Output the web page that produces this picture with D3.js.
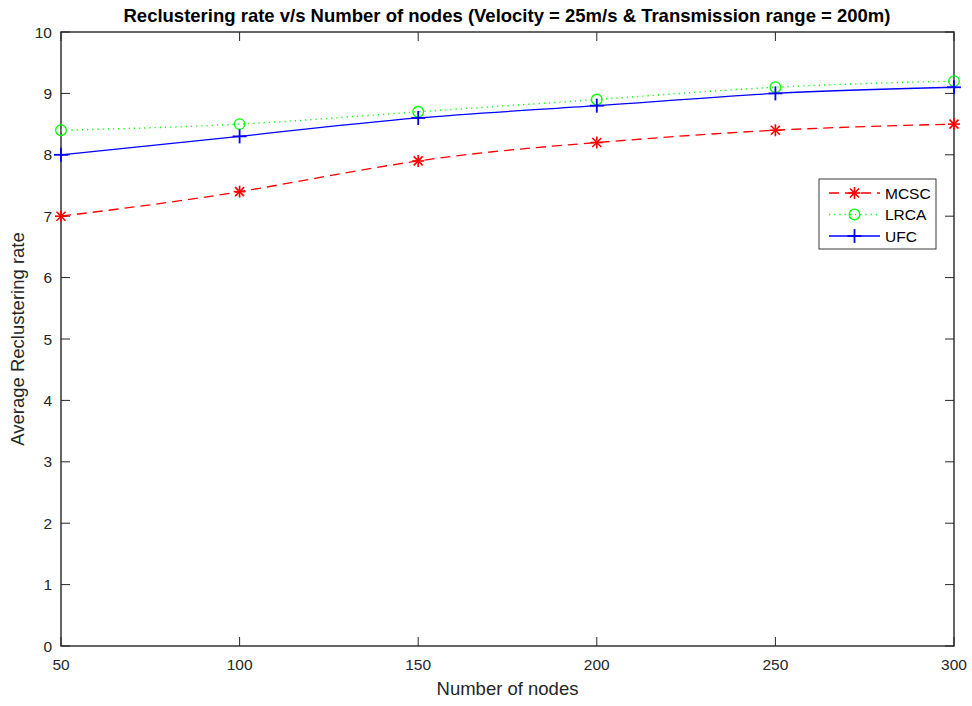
<!DOCTYPE html>
<html>
<head>
<meta charset="utf-8">
<script src="https://cdn.jsdelivr.net/npm/d3@7"></script>
<style>
  body { margin: 0; background: #fff; }
  svg { display: block; font-family: "Liberation Sans", Arial, Helvetica, sans-serif; }
</style>
</head>
<body>
<svg id="chart" width="972" height="706"></svg>
<script>
// Number of nodes on the x axis
const nodes = [50, 100, 150, 200, 250, 300];
// Average reclustering rate per scheme
const mcsc = [7.0, 7.4, 7.9, 8.2, 8.4, 8.5];
const lrca = [8.4, 8.5, 8.7, 8.9, 9.1, 9.2];
const ufc  = [8.0, 8.3, 8.6, 8.8, 9.0, 9.1];
const xTicks = [50, 100, 150, 200, 250, 300];
const yTicks = [0, 1, 2, 3, 4, 5, 6, 7, 8, 9, 10];

const series = [
  { name: "MCSC", values: mcsc, color: "#ff0000", dash: "10,6", marker: "star" },
  { name: "LRCA", values: lrca, color: "#00ff00", dash: "1.2,4", marker: "circle" },
  { name: "UFC",  values: ufc,  color: "#0000ff", dash: null,   marker: "plus" }
];

const svg = d3.select("#chart");
const L = 61, R = 954, T = 32, B = 646;
const x = d3.scaleLinear().domain([50, 300]).range([L, R]);
const y = d3.scaleLinear().domain([0, 10]).range([B, T]);
const axisColor = "#262626";

// Axes box with inward ticks on all four sides
const tickLen = 9;
const g = svg.append("g");
xTicks.forEach(t => {
  g.append("line").attr("x1", x(t)).attr("x2", x(t)).attr("y1", B).attr("y2", B - tickLen)
    .attr("stroke", axisColor).attr("stroke-width", 1);
  g.append("line").attr("x1", x(t)).attr("x2", x(t)).attr("y1", T).attr("y2", T + tickLen)
    .attr("stroke", axisColor).attr("stroke-width", 1);
  g.append("text").attr("x", x(t)).attr("y", B + 24).attr("text-anchor", "middle")
    .attr("font-size", 15.5).attr("fill", axisColor).text(t);
});
yTicks.forEach(t => {
  g.append("line").attr("x1", L).attr("x2", L + tickLen).attr("y1", y(t)).attr("y2", y(t))
    .attr("stroke", axisColor).attr("stroke-width", 1);
  g.append("line").attr("x1", R).attr("x2", R - tickLen).attr("y1", y(t)).attr("y2", y(t))
    .attr("stroke", axisColor).attr("stroke-width", 1);
  g.append("text").attr("x", L - 9).attr("y", y(t) + 5.5).attr("text-anchor", "end")
    .attr("font-size", 15.5).attr("fill", axisColor).text(t);
});
g.append("rect").attr("x", L).attr("y", T).attr("width", R - L).attr("height", B - T)
  .attr("fill", "none").attr("stroke", axisColor).attr("stroke-width", 1.4);

// Marker drawing
function drawMarker(sel, type, cx, cy, color) {
  if (type === "circle") {
    sel.append("circle").attr("cx", cx).attr("cy", cy).attr("r", 5.3)
      .attr("fill", "none").attr("stroke", color).attr("stroke-width", 1.3);
  } else if (type === "plus") {
    sel.append("line").attr("x1", cx - 7).attr("x2", cx + 7).attr("y1", cy).attr("y2", cy)
      .attr("stroke", color).attr("stroke-width", 1.8);
    sel.append("line").attr("x1", cx).attr("x2", cx).attr("y1", cy - 7).attr("y2", cy + 7)
      .attr("stroke", color).attr("stroke-width", 1.8);
  } else if (type === "star") {
    const r = 6;
    sel.append("line").attr("x1", cx - r).attr("x2", cx + r).attr("y1", cy).attr("y2", cy)
      .attr("stroke", color).attr("stroke-width", 1.6);
    sel.append("line").attr("x1", cx).attr("x2", cx).attr("y1", cy - r).attr("y2", cy + r)
      .attr("stroke", color).attr("stroke-width", 1.6);
    const d = r * 0.75;
    sel.append("line").attr("x1", cx - d).attr("x2", cx + d).attr("y1", cy - d).attr("y2", cy + d)
      .attr("stroke", color).attr("stroke-width", 1.6);
    sel.append("line").attr("x1", cx - d).attr("x2", cx + d).attr("y1", cy + d).attr("y2", cy - d)
      .attr("stroke", color).attr("stroke-width", 1.6);
  }
}

const line = d3.line().curve(d3.curveNatural).x(d => x(d[0])).y(d => y(d[1]));

series.forEach(s => {
  const pts = nodes.map((n, i) => [n, s.values[i]]);
  svg.append("path").datum(pts).attr("d", line).attr("fill", "none")
    .attr("stroke", s.color).attr("stroke-width", s.marker === "circle" ? 1.4 : 1.3)
    .attr("stroke-dasharray", s.dash);
  const mg = svg.append("g");
  pts.forEach(p => drawMarker(mg, s.marker, x(p[0]), y(p[1]), s.color));
});

// Legend
const lg = svg.append("g");
lg.append("rect").attr("x", 819).attr("y", 179).attr("width", 117).attr("height", 70)
  .attr("fill", "#fff").attr("stroke", axisColor).attr("stroke-width", 0.9);
series.forEach((s, i) => {
  const ly = 193 + i * 21.5;
  lg.append("line").attr("x1", 829).attr("x2", 880).attr("y1", ly).attr("y2", ly)
    .attr("stroke", s.color).attr("stroke-width", s.marker === "circle" ? 1.4 : 1.3)
    .attr("stroke-dasharray", s.dash);
  drawMarker(lg, s.marker, 854.5, ly, s.color);
  lg.append("text").attr("x", 885).attr("y", ly + 5.5).attr("font-size", 15.5)
    .attr("fill", "#000").text(s.name);
});

// Title and axis labels
svg.append("text").attr("x", 507).attr("y", 22).attr("text-anchor", "middle")
  .attr("font-size", 18.5).attr("font-weight", "bold").attr("fill", "#000")
  .text("Reclustering rate v/s Number of nodes (Velocity = 25m/s & Transmission range = 200m)");
svg.append("text").attr("x", (L + R) / 2).attr("y", 695).attr("text-anchor", "middle")
  .attr("font-size", 18.5).attr("fill", axisColor).text("Number of nodes");
svg.append("text").attr("transform", `translate(24,${(T + B) / 2}) rotate(-90)`)
  .attr("text-anchor", "middle").attr("font-size", 18.5).attr("fill", axisColor)
  .text("Average Reclustering rate");
</script>
</body>
</html>
